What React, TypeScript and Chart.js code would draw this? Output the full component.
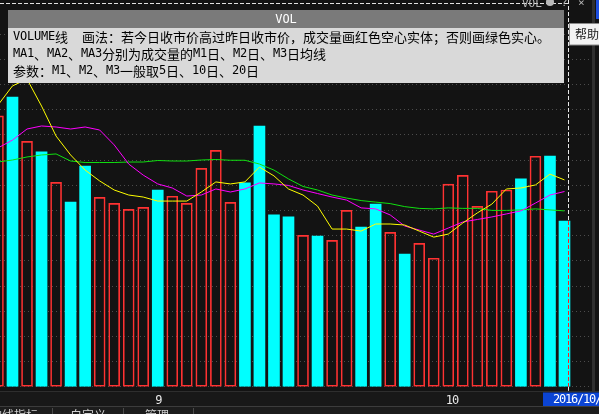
import React, { useEffect, useRef } from "react";
import { Chart, registerables } from "chart.js";

Chart.register(...registerables);

// ---- data (index 0 is the bar partly hidden at the left edge) ----
const barDirection = [
  "up", "down", "up", "down", "up", "down", "down", "up", "up", "up",
  "up", "down", "up", "up", "up", "up", "up", "down", "down", "down",
  "down", "up", "down", "up", "up", "down", "down", "up", "down", "up",
  "up", "up", "up", "up", "up", "up", "down", "up", "down", "down",
];
const volumes = [
  1075, 1150, 974, 932, 811, 733, 876, 752, 728, 704,
  712, 781, 756, 728, 867, 938, 732, 809, 1035, 682,
  674, 601, 598, 581, 700, 634, 725, 613, 527, 569,
  510, 804, 839, 716, 776, 781, 825, 915, 916, 658,
];
const ma5 = [
  1118, 1194, 1221, 1114, 995, 920, 860, 817, 781, 761,
  753, 737, 737, 737, 773, 813, 805, 813, 872, 837,
  785, 761, 717, 626, 626, 618, 646, 646, 642, 618,
  594, 606, 650, 690, 725, 785, 789, 801, 844, 821,
];
const ma10 = [
  948, 979, 1023, 1035, 1031, 1023, 1031, 1019, 960, 884,
  840, 805, 789, 757, 761, 785, 773, 785, 809, 805,
  799, 781, 767, 753, 741, 710, 706, 682, 638, 622,
  606, 630, 654, 664, 674, 686, 698, 729, 761, 775,
];
const ma20 = [
  892, 900, 912, 920, 924, 896, 890, 890, 890, 892,
  892, 898, 896, 896, 900, 902, 899, 899, 884, 860,
  825, 795, 781, 761, 749, 739, 733, 727, 715, 708,
  706, 710, 708, 708, 700, 700, 702, 706, 702, 698,
];
const monthLabels = ["9", "10"];
const monthIndex = [11, 31];
const infoTitle = "VOL";
const infoLines = [
  "VOLUME线  画法：若今日收市价高过昨日收市价，成交量画红色空心实体；否则画绿色实心。",
  "MA1、MA2、MA3分别为成交量的M1日、M2日、M3日均线",
  "参数：M1、M2、M3一般取5日、10日、20日",
];
const dateText = "2016/10/20";
const tabLabels = ["均线指标", "自定义", "管理"];
const helpText = "帮助";

const BG = "#131313";
const CYAN = "#00ffff";
const RED = "#ff3232";
const YELLOW = "#ffff00";
const MAGENTA = "#ff00ff";
const GREEN = "#10e010";

const LATIN_FONT = '12px "DejaVu Sans Mono"';
const CJK_FONT = '13px "Noto Sans CJK SC"';

function drawMixed(ctx: CanvasRenderingContext2D, text: string, x: number, y: number, latinAdv: number, cjkAdv: number, latinFont = LATIN_FONT, cjkFont = CJK_FONT) {
  let cx = x;
  for (const ch of text) {
    const ascii = ch.charCodeAt(0) < 128;
    ctx.font = ascii ? latinFont : cjkFont;
    ctx.fillText(ch, cx, y);
    cx += ascii ? latinAdv : cjkAdv;
  }
}

function dashedV(ctx: CanvasRenderingContext2D, x: number, y0: number, y1: number, color: string, offset: number) {
  ctx.save();
  ctx.strokeStyle = color;
  ctx.lineWidth = 1;
  ctx.setLineDash([4, 2]);
  ctx.lineDashOffset = offset;
  ctx.beginPath();
  ctx.moveTo(x, y0);
  ctx.lineTo(x, y1);
  ctx.stroke();
  ctx.restore();
}

const chromePlugin = {
  id: "chrome",
  beforeDraw(chart: any) {
    const ctx = chart.ctx;
    ctx.save();
    ctx.fillStyle = BG;
    ctx.fillRect(0, 0, chart.width, chart.height);
    ctx.restore();
  },
  afterDraw(chart: any) {
    const ctx: CanvasRenderingContext2D = chart.ctx;
    const xs = chart.scales.x;
    const ys = chart.scales.y;
    const base = chart.chartArea.bottom;
    ctx.save();

    // bottom axis strip
    ctx.fillStyle = "#181818";
    ctx.fillRect(0, 392, 599, 15);
    ctx.fillStyle = "#2e2e2e";
    ctx.fillRect(0, 391, 599, 1);
    ctx.fillStyle = "#3c3c3c";
    ctx.fillRect(0, 406, 599, 1);
    ctx.fillStyle = "#1c1c1c";
    ctx.fillRect(0, 407, 599, 7);

    // month labels
    ctx.fillStyle = "#e8e8e8";
    ctx.textBaseline = "middle";
    ctx.textAlign = "left";
    monthLabels.forEach((lab, i) => {
      const px = xs.getPixelForValue(monthIndex[i]) - 2.5;
      drawMixed(ctx, lab, px, 400.5, 6.2, 12, '12px "DejaVu Sans Mono"');
    });

    // date box
    ctx.fillStyle = "#0b44d4";
    ctx.fillRect(543, 392.5, 56, 13.5);
    ctx.fillStyle = "#ffffff";
    drawMixed(ctx, dateText, 553, 399.5, 6, 12, '12px "DejaVu Sans Mono"');

    // tabs
    ctx.fillStyle = "#4a4a4a";
    [52, 123, 193].forEach((x) => ctx.fillRect(x, 408, 1, 6));
    ctx.fillStyle = "#cfcfcf";
    ctx.textBaseline = "top";
    ctx.font = '12px "Noto Sans CJK SC"';
    ctx.fillText(tabLabels[0], -10, 409);
    ctx.fillText(tabLabels[1], 70, 409);
    ctx.fillText(tabLabels[2], 145, 409);

    // right edge strip
    ctx.fillStyle = "#2f2f2f";
    ctx.fillRect(592, 0, 3, 392);
    ctx.fillStyle = "#1d4fe0";
    ctx.fillRect(596, 0, 3, 19);

    // top dashed line
    ctx.save();
    ctx.strokeStyle = "#e0e0e0";
    ctx.lineWidth = 1;
    ctx.setLineDash([4, 2]);
    ctx.beginPath();
    ctx.moveTo(0, 3.5);
    ctx.lineTo(568, 3.5);
    ctx.stroke();
    ctx.restore();

    // cursor line (xor look: red over the cyan bar)
    const last = volumes.length - 1;
    const lastTop = ys.getPixelForValue(volumes[last]);
    dashedV(ctx, 568.5, 0, lastTop, "#e8e8e8", 0);
    dashedV(ctx, 568.5, lastTop, base, "#ff2020", 0);
    dashedV(ctx, 568.5, base, 392, "#e8e8e8", 0);

    // top-right small controls
    ctx.fillStyle = "#b8b8b8";
    ctx.textBaseline = "alphabetic";
    ctx.font = '11px "DejaVu Sans Mono"';
    ctx.fillText("VOL", 522, 7);
    ctx.beginPath();
    ctx.arc(550, 2, 4, 0, Math.PI * 2);
    ctx.fill();
    ctx.fillText("?", 561, 6);
    ctx.fillText("×", 578, 6);

    // info box
    ctx.fillStyle = "#7a7a7a";
    ctx.fillRect(8, 10, 556, 18);
    ctx.fillStyle = "#d9d9d9";
    ctx.fillRect(8, 28, 556, 55);
    ctx.fillStyle = "#ffffff";
    ctx.textBaseline = "middle";
    ctx.textAlign = "center";
    ctx.font = '12px "DejaVu Sans Mono"';
    ctx.fillText(infoTitle, 286, 19.5);
    ctx.textAlign = "left";
    ctx.fillStyle = "#000000";
    const lineY = [36.8, 53.6, 70.6];
    infoLines.forEach((t, i) => drawMixed(ctx, t, 13, lineY[i], 7, 13));

    // help tooltip
    ctx.fillStyle = "#f3f3f3";
    ctx.fillRect(569.5, 23.5, 30, 21.5);
    ctx.strokeStyle = "#8a8a8a";
    ctx.lineWidth = 1;
    ctx.strokeRect(569.5, 23.5, 31, 21.5);
    ctx.fillStyle = "#202020";
    ctx.font = '12px "Noto Sans CJK SC"';
    ctx.textBaseline = "middle";
    ctx.fillText(helpText, 575, 34.5);

    ctx.restore();
  },
};

export default function App() {
  const ref = useRef<HTMLCanvasElement | null>(null);
  useEffect(() => {
    const canvas = ref.current;
    if (!canvas) return;
    const pts = (arr: number[]) => arr.map((v, i) => ({ x: i, y: v }));
    const chart = new Chart(canvas, {
      type: "bar",
      data: {
        datasets: [
          { type: "line", label: "MA5", data: pts(ma5), borderColor: YELLOW, borderWidth: 1, pointRadius: 0, tension: 0, fill: false, order: 0 } as any,
          { type: "line", label: "MA10", data: pts(ma10), borderColor: MAGENTA, borderWidth: 1, pointRadius: 0, tension: 0, fill: false, order: 1 } as any,
          { type: "line", label: "MA20", data: pts(ma20), borderColor: GREEN, borderWidth: 1, pointRadius: 0, tension: 0, fill: false, order: 2 } as any,
          {
            type: "bar",
            label: "VOL",
            data: pts(volumes),
            backgroundColor: barDirection.map((d) => (d === "down" ? CYAN : "rgba(0,0,0,0)")),
            borderColor: barDirection.map((d) => (d === "down" ? CYAN : RED)),
            borderWidth: barDirection.map((d) => (d === "down" ? 0 : 1)),
            borderSkipped: false,
            barThickness: 11,
            order: 3,
          } as any,
        ],
      },
      options: {
        animation: false,
        responsive: false,
        devicePixelRatio: 1,
        events: [],
        layout: { padding: { left: 0, right: 8, top: 34, bottom: 27.2 } },
        plugins: { legend: { display: false }, tooltip: { enabled: false } },
        scales: {
          x: { type: "linear", min: 0.1398, max: 40.825, offset: false, display: false },
          y: {
            type: "linear",
            min: 0,
            max: 1400,
            display: true,
            ticks: { display: false, stepSize: 100 },
            grid: { color: "#4c4c4c", drawTicks: false, lineWidth: 1 },
            border: { display: false, dash: [1, 3] },
            afterFit: (s: any) => {
              s.width = 0;
            },
          },
        },
      } as any,
      plugins: [chromePlugin as any],
    });
    return () => chart.destroy();
  }, []);
  return (
    <div style={{ position: "fixed", left: 0, top: 0, width: 599, height: 414, background: BG, overflow: "hidden" }}>
      <canvas ref={ref} width={599} height={414} style={{ display: "block", width: 599, height: 414 }} />
    </div>
  );
}
